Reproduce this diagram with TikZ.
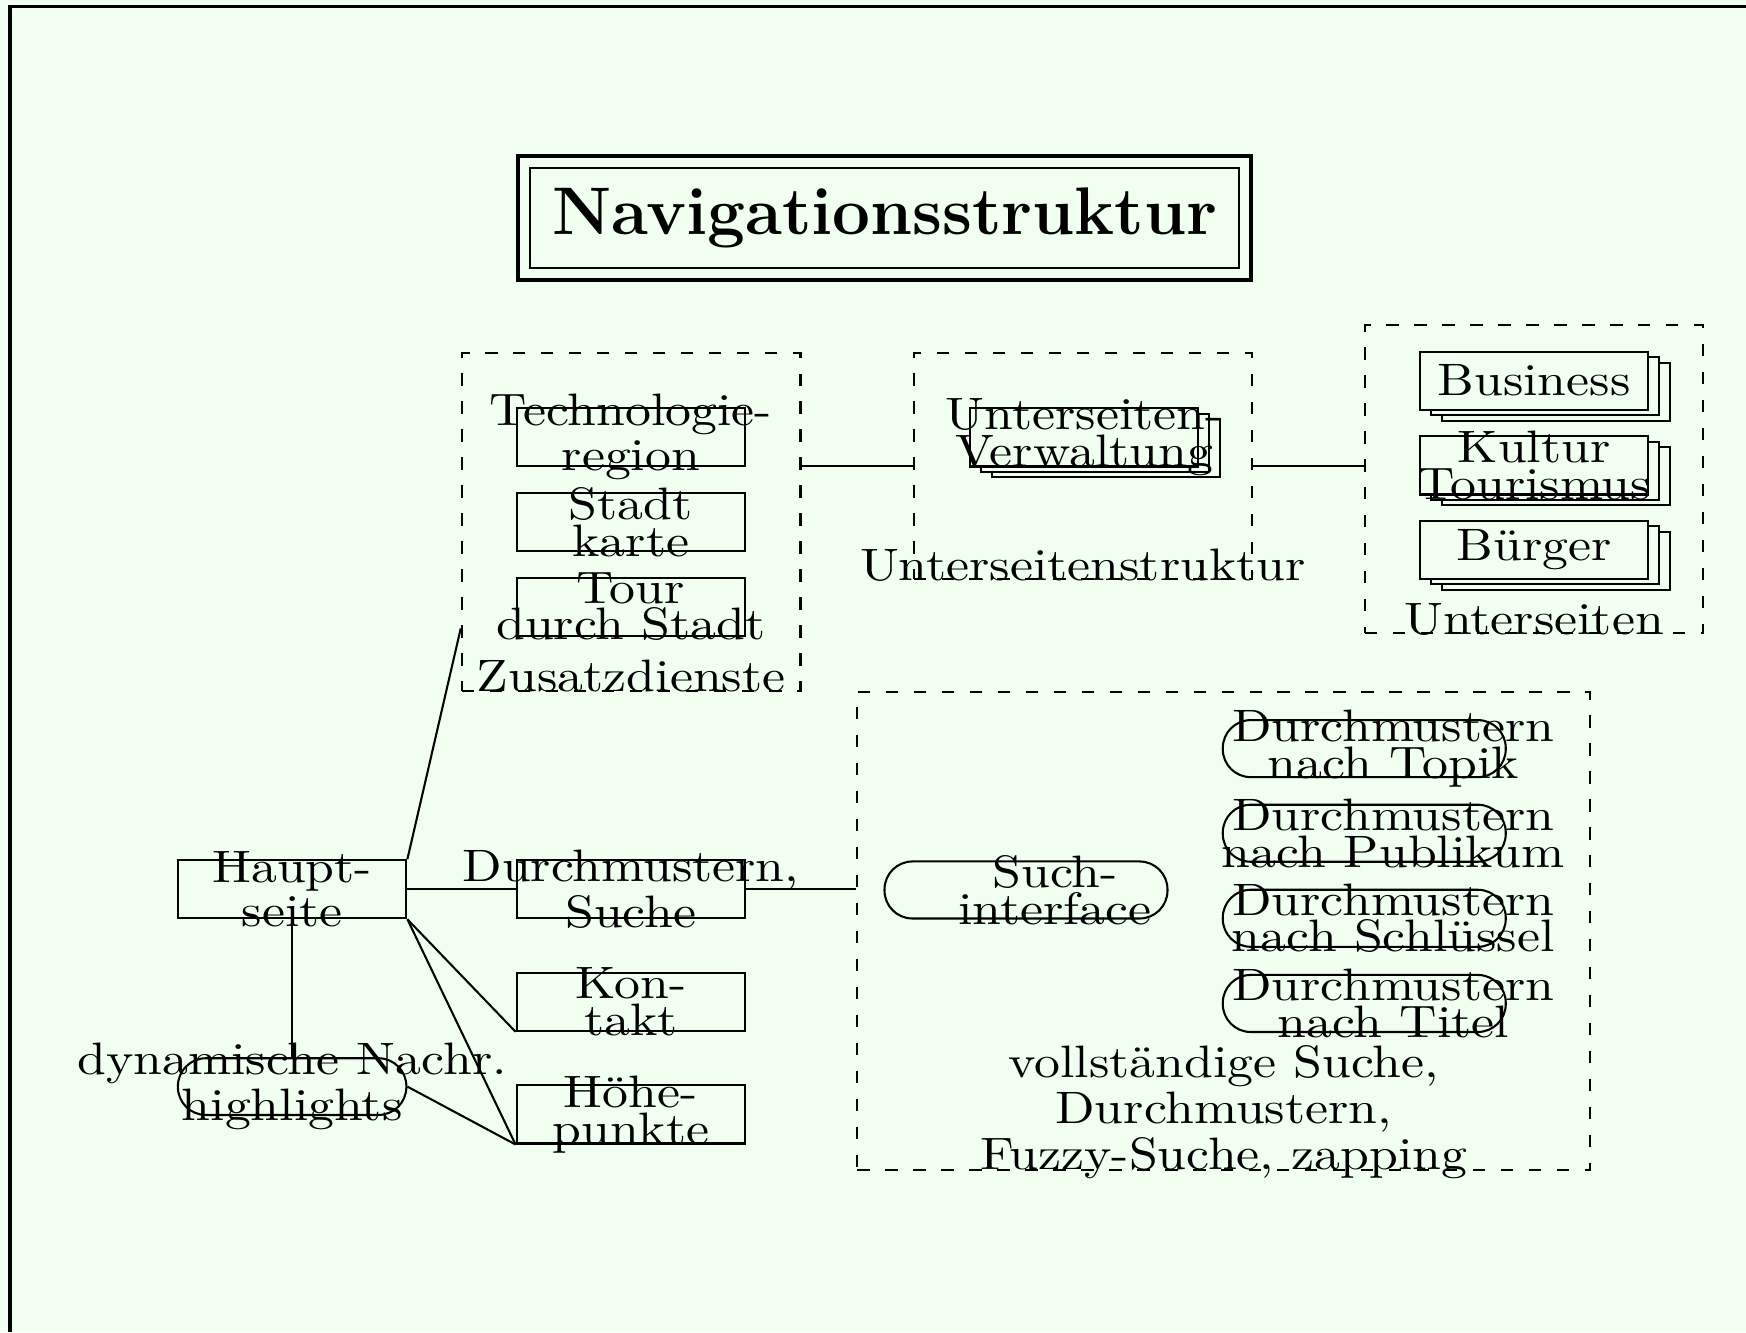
\documentclass[tikz,border=0pt]{standalone}
\usepackage{fontspec}
\newfontfamily\boxfont{lmroman10-regular.otf}[FakeStretch=1.14]
\usepackage{tikz}
\usetikzlibrary{fit, % for the double title frame
                shadows, % for the stacked pages
                positioning}
\definecolor{mint}{RGB}{240,255,240}

\begin{document}
\begin{tikzpicture}[box/.style={draw, fill=mint, inner sep=0pt, minimum width=1.55cm, minimum height=0.394cm},
                    pill/.style={box, rounded corners=5.4pt, minimum width=1.92cm, minimum height=0.387cm},
                    pages/.style={box, double copy shadow={shadow xshift=2.1pt, shadow yshift=-1.05pt}},
                    group/.style={draw, dash pattern=on 2.4pt off 3pt, inner sep=0pt},
                    txt/.style={inner sep=0pt, align=center, font=\boxfont\fontsize{8.77pt}{7.1pt}\selectfont}
                    ]
        \fill[mint] (0,0) rectangle (11.846,-9.037);
        \useasboundingbox (0,0) rectangle (11.846,-9.037);
        \draw[semithick] (0.068,-9.037) |- (11.846,-0.041);

        % title
        \node[draw, inner sep=0pt, minimum width=4.81cm, minimum height=0.68cm,
              font=\fontsize{13pt}{15pt}\selectfont\bfseries] (title) at (6.003,-1.481) {Navigationsstruktur};
        \node[draw, thick, fit=(title), inner sep=2.1pt] (titleframe) {};

        % main page
        \node[box] (haupt) at (1.982,-6.033) {};
        \node[box] (durch) at (4.280,-6.033) {};
        \node[box] (kontakt) at (4.280,-6.796) {};
        \node[box] (hoehe) at (4.280,-7.561) {};
        \node[pill, minimum width=1.55cm, minimum height=0.385cm] (news) at (1.982,-7.372) {};

        % Zusatzdienste
        \node[box] (tech) at (4.280,-2.965) {};
        \node[box] (stadt) at (4.280,-3.543) {};
        \node[box] (tour) at (4.280,-4.116) {};
        \node[group, minimum width=2.298cm, minimum height=2.289cm] (zusatz) at (4.282,-3.541) {};

        % Unterseiten
        \node[pages] (verw) at (7.356,-2.968) {};
        \node[group, minimum width=2.298cm, minimum height=1.531cm] (struktur) at (7.347,-3.163) {};
        \node[pages] (business) at (10.408,-2.583) {};
        \node[pages] (kultur) at (10.408,-3.158) {};
        \node[pages] (buerger) at (10.408,-3.731) {};
        \node[group, minimum width=2.295cm, minimum height=2.092cm] (seiten) at (10.408,-3.251) {};

        % Suche
        \node[pill] (such) at (6.961,-6.038) {};
        \node[pill] (topik) at (9.256,-5.079) {};
        \node[pill] (publikum) at (9.256,-5.653) {};
        \node[pill] (schluessel) at (9.256,-6.230) {};
        \node[pill] (titel) at (9.256,-6.808) {};
        \node[group, minimum width=4.970cm, minimum height=3.243cm] (suche) at (8.302,-6.316) {};

        % connectors
        \draw (haupt.east) -- (durch.west);
        \draw (haupt.north east) -- (zusatz.212);
        \draw (haupt.south east) -- (kontakt.south west);
        \draw (haupt.south east) -- (hoehe.south west);
        \draw (haupt.south) -- (news.north);
        \draw (news.east) -- (hoehe.south west);
        \draw (durch.east) -- (durch.east -| suche.west);
        \draw (zusatz.east |- struktur.west) -- (struktur.west);
        \draw (struktur.east) -- (struktur.east -| seiten.west);

        % texts
        \node[txt] (hauptlbl) at (haupt) {Haupt-\\seite};
        \node[txt] (durchlbl) at (durch) {Durchmustern,\\Suche};
        \node[txt] (kontaktlbl) at (kontakt) {Kon-\\takt};
        \node[txt] (hoehelbl) at (hoehe) {Höhe-\\punkte};
        \node[txt] (newslbl) at (news) {dynamische Nachr.\\highlights};
        \node[txt] (techlbl) at (tech) {Technologie-\\region};
        \node[txt] (stadtlbl) at (stadt) {Stadt\\karte};
        \node[txt] (tourlbl) at (tour) {Tour\\durch Stadt};
        \node[txt] (verwlbl) at (verw) {Unterseiten-\\Verwaltung};
        \node[txt] (businesslbl) at (business) {Business};
        \node[txt] (kulturlbl) at (kultur) {Kultur\\Tourismus};
        \node[txt] (buergerlbl) at (buerger) {Bürger};
        \node[txt, xshift=0.197cm] (suchlbl) at (such) {Such-\\interface};
        \node[txt, xshift=0.197cm] (topiklbl) at (topik) {Durchmustern\\nach Topik};
        \node[txt, xshift=0.197cm] (publikumlbl) at (publikum) {Durchmustern\\nach Publikum};
        \node[txt, xshift=0.197cm] (schluessellbl) at (schluessel) {Durchmustern\\nach Schlüssel};
        \node[txt, xshift=0.197cm] (titellbl) at (titel) {Durchmustern\\nach Titel};

        % group captions
        \node[txt, anchor=base] (zusatzcap) at (zusatz.south) {Zusatzdienste};
        \node[txt, anchor=base] (strukturcap) at (struktur.south) {Unterseitenstruktur};
        \node[txt, anchor=base] (seitencap) at (seiten.south) {Unterseiten};
        \node[txt, anchor=south, yshift=-1.7pt] (suchecap) at (suche.south) {vollständige Suche,\\Durchmustern,\\Fuzzy-Suche, zapping};
\end{tikzpicture}
\end{document}
